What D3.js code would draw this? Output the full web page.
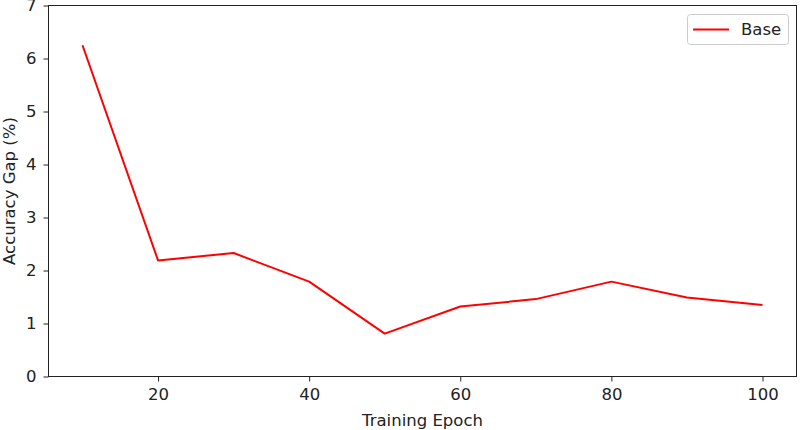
<!DOCTYPE html>
<html><head><meta charset="utf-8">
<script src="https://cdn.jsdelivr.net/npm/d3@7"></script>
<style>body{margin:0;background:#fff}svg{display:block;font-family:"DejaVu Sans",sans-serif}</style>
</head><body><svg id="c" width="800" height="430"></svg>
<script>
const epochs = [10,20,30,40,50,60,70,80,90,100];
const baseGap = [6.25,2.19,2.33,1.79,0.81,1.32,1.46,1.79,1.49,1.35];
const xTicks = [20,40,60,80,100];
const yTicks = [0,1,2,3,4,5,6,7];
const seriesName = "Base";

const svg = d3.select("#c");
const L=48.5, R=796.5, T=5.5, B=376.5;
const FS = 16.5;
const x = d3.scaleLinear().domain([5.5,104.5]).range([L,R]);
const y = d3.scaleLinear().domain([0,7]).range([B,T]);

svg.append("g").attr("transform",`translate(0,${B})`)
  .call(d3.axisBottom(x).tickValues(xTicks).tickSize(5).tickPadding(7).tickFormat(d3.format("d")))
  .call(g=>g.select(".domain").remove())
  .call(g=>g.selectAll("text").attr("font-size",FS).attr("fill","#222").attr("font-family","DejaVu Sans"))
  .call(g=>g.selectAll("line").attr("stroke","#222"));
svg.append("g").attr("transform",`translate(${L},0)`)
  .call(d3.axisLeft(y).tickValues(yTicks).tickSize(5).tickPadding(7).tickFormat(d3.format("d")))
  .call(g=>g.select(".domain").remove())
  .call(g=>g.selectAll("text").attr("font-size",FS).attr("fill","#222").attr("font-family","DejaVu Sans"))
  .call(g=>g.selectAll("line").attr("stroke","#222"));

const line = d3.line().x((d,i)=>x(epochs[i])).y(d=>y(d));
svg.append("path").datum(baseGap).attr("d",line).attr("fill","none")
  .attr("stroke","#f00").attr("stroke-width",2).attr("stroke-linejoin","round");

svg.append("rect").attr("x",L).attr("y",T).attr("width",R-L).attr("height",B-T)
  .attr("fill","none").attr("stroke","#222").attr("stroke-width",1);

svg.append("text").attr("x",(L+R)/2).attr("y",426).attr("text-anchor","middle")
  .attr("font-size",FS).attr("fill","#222").text("Training Epoch");
svg.append("text").attr("transform",`translate(15,${(T+B)/2}) rotate(-90)`).attr("text-anchor","middle")
  .attr("font-size",FS).attr("fill","#222").text("Accuracy Gap (%)");

const lg = svg.append("g");
lg.append("rect").attr("x",687.5).attr("y",14.5).attr("width",101).attr("height",30).attr("rx",3)
  .attr("fill","#fff").attr("stroke","#ccc");
lg.append("line").attr("x1",693).attr("x2",729).attr("y1",29.5).attr("y2",29.5).attr("stroke","#f00").attr("stroke-width",2);
lg.append("text").attr("x",741).attr("y",35).attr("font-size",FS).attr("fill","#222").text(seriesName);
</script></body></html>
